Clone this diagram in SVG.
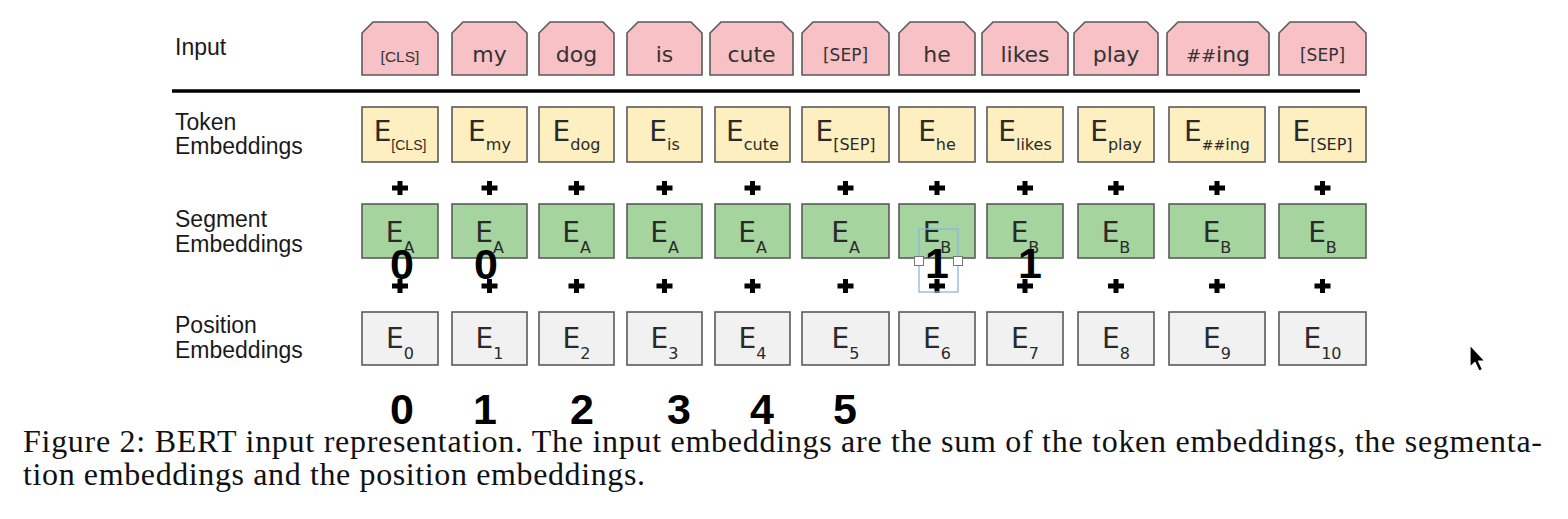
<svg xmlns="http://www.w3.org/2000/svg" xmlns:xlink="http://www.w3.org/1999/xlink" width="1568" height="519" viewBox="0 0 1568 519">
<style>
.lbl{font-family:"Liberation Sans",Arial,sans-serif;font-size:23px;fill:#1a1a1a}
.box{stroke:#5a5a5a;stroke-width:1.6}
.inp{fill:#f7c1c6}
.tok{fill:#fdefc0}
.seg{fill:#a5d49e}
.pos{fill:#f1f1f1}
.w{font-family:"DejaVu Sans",Verdana,sans-serif;font-size:22px;fill:#333;text-anchor:middle}
.br{font-family:"Liberation Sans",Arial,sans-serif;font-size:15.5px;fill:#333;text-anchor:middle}
.brs{font-family:"DejaVu Sans",Verdana,sans-serif;font-size:17px;fill:#333;text-anchor:middle}
.e{font-family:"DejaVu Sans",Verdana,sans-serif;font-size:28px;fill:#2a2a2a;text-anchor:middle}
.s{font-size:16px}
.ss{font-size:14px}
.sa{font-family:"Liberation Sans",Arial,sans-serif;font-size:14px}
.num{font-family:"Liberation Sans",Arial,sans-serif;font-weight:bold;font-size:43px;fill:#000;text-anchor:middle}
.cap{font-family:"Liberation Serif","Times New Roman",serif;font-size:32px;fill:#111}
.plus{stroke:#000;stroke-width:5;fill:none}
</style>
<defs>
<path id="plus" class="plus" d="M-8 0H8M0-7V7"/>
</defs>
<rect width="1568" height="519" fill="#fff"/>

<g id="row-labels">
<text class="lbl" x="175" y="55">Input</text>
<text class="lbl" x="175" y="130">Token</text>
<text class="lbl" x="175" y="154">Embeddings</text>
<text class="lbl" x="175" y="227">Segment</text>
<text class="lbl" x="175" y="252">Embeddings</text>
<text class="lbl" x="175" y="333">Position</text>
<text class="lbl" x="175" y="358">Embeddings</text>
</g>

<g id="separator">
<line x1="172" y1="91" x2="1360" y2="91" stroke="#000" stroke-width="3.5"/>
</g>

<g id="input-row">
<g id="in-0"><path class="box inp" d="M362 75V33L373 22H427L438 33V75Z"/><text class="br" x="400" y="62">[CLS]</text></g>
<g id="in-1"><path class="box inp" d="M452 75V33L463 22H516L527 33V75Z"/><text class="w" x="489.5" y="62">my</text></g>
<g id="in-2"><path class="box inp" d="M539 75V33L550 22H603L614 33V75Z"/><text class="w" x="576.5" y="62">dog</text></g>
<g id="in-3"><path class="box inp" d="M627 75V33L638 22H691L702 33V75Z"/><text class="w" x="664.5" y="62">is</text></g>
<g id="in-4"><path class="box inp" d="M710 75V33L721 22H782L793 33V75Z"/><text class="w" x="751.5" y="62">cute</text></g>
<g id="in-5"><path class="box inp" d="M802 75V33L813 22H878L889 33V75Z"/><text class="brs" x="845.5" y="61">[SEP]</text></g>
<g id="in-6"><path class="box inp" d="M899 75V33L910 22H964L975 33V75Z"/><text class="w" x="937" y="62">he</text></g>
<g id="in-7"><path class="box inp" d="M982 75V33L993 22H1057L1068 33V75Z"/><text class="w" x="1025" y="62">likes</text></g>
<g id="in-8"><path class="box inp" d="M1074 75V33L1085 22H1147L1158 33V75Z"/><text class="w" x="1116" y="62">play</text></g>
<g id="in-9"><path class="box inp" d="M1167 75V33L1178 22H1258L1269 33V75Z"/><text class="w" x="1218" y="62"><tspan font-size="18">##</tspan>ing</text></g>
<g id="in-10"><path class="box inp" d="M1279 75V33L1290 22H1355L1366 33V75Z"/><text class="brs" x="1322.5" y="61">[SEP]</text></g>
</g>

<g id="token-row">
<g id="tok-0"><rect class="box tok" x="362" y="107" width="76" height="55"/><text class="e" x="400" y="141">E<tspan class="sa" dy="9">[CLS]</tspan></text></g>
<g id="tok-1"><rect class="box tok" x="452" y="107" width="75" height="55"/><text class="e" x="489.5" y="141">E<tspan class="s" dy="9">my</tspan></text></g>
<g id="tok-2"><rect class="box tok" x="539" y="107" width="75" height="55"/><text class="e" x="576.5" y="141">E<tspan class="s" dy="9">dog</tspan></text></g>
<g id="tok-3"><rect class="box tok" x="627" y="107" width="75" height="55"/><text class="e" x="664.5" y="141">E<tspan class="s" dy="9">is</tspan></text></g>
<g id="tok-4"><rect class="box tok" x="715" y="107" width="75" height="55"/><text class="e" x="752.5" y="141">E<tspan class="s" dy="9">cute</tspan></text></g>
<g id="tok-5"><rect class="box tok" x="802" y="107" width="87" height="55"/><text class="e" x="845.5" y="141">E<tspan class="s" dy="9">[SEP]</tspan></text></g>
<g id="tok-6"><rect class="box tok" x="899" y="107" width="76" height="55"/><text class="e" x="937" y="141">E<tspan class="s" dy="9">he</tspan></text></g>
<g id="tok-7"><rect class="box tok" x="987" y="107" width="76" height="55"/><text class="e" x="1025" y="141">E<tspan class="s" dy="9">likes</tspan></text></g>
<g id="tok-8"><rect class="box tok" x="1078" y="107" width="76" height="55"/><text class="e" x="1116" y="141">E<tspan class="s" dy="9">play</tspan></text></g>
<g id="tok-9"><rect class="box tok" x="1169" y="107" width="96" height="55"/><text class="e" x="1217" y="141">E<tspan class="ss" dy="9">##</tspan><tspan class="s">ing</tspan></text></g>
<g id="tok-10"><rect class="box tok" x="1279" y="107" width="87" height="55"/><text class="e" x="1322.5" y="141">E<tspan class="s" dy="9">[SEP]</tspan></text></g>
</g>

<g id="segment-row">
<g id="seg-0"><rect class="box seg" x="362" y="204" width="76" height="54"/><text class="e" x="400" y="242">E<tspan class="s" font-size="17" dy="11">A</tspan></text></g>
<g id="seg-1"><rect class="box seg" x="452" y="204" width="75" height="54"/><text class="e" x="489.5" y="242">E<tspan class="s" font-size="17" dy="11">A</tspan></text></g>
<g id="seg-2"><rect class="box seg" x="539" y="204" width="75" height="54"/><text class="e" x="576.5" y="242">E<tspan class="s" font-size="17" dy="11">A</tspan></text></g>
<g id="seg-3"><rect class="box seg" x="627" y="204" width="75" height="54"/><text class="e" x="664.5" y="242">E<tspan class="s" font-size="17" dy="11">A</tspan></text></g>
<g id="seg-4"><rect class="box seg" x="715" y="204" width="75" height="54"/><text class="e" x="752.5" y="242">E<tspan class="s" font-size="17" dy="11">A</tspan></text></g>
<g id="seg-5"><rect class="box seg" x="802" y="204" width="87" height="54"/><text class="e" x="845.5" y="242">E<tspan class="s" font-size="17" dy="11">A</tspan></text></g>
<g id="seg-6"><rect class="box seg" x="899" y="204" width="76" height="54"/><text class="e" x="937" y="242">E<tspan class="s" font-size="17" dy="11">B</tspan></text></g>
<g id="seg-7"><rect class="box seg" x="987" y="204" width="76" height="54"/><text class="e" x="1025" y="242">E<tspan class="s" font-size="17" dy="11">B</tspan></text></g>
<g id="seg-8"><rect class="box seg" x="1078" y="204" width="76" height="54"/><text class="e" x="1116" y="242">E<tspan class="s" font-size="17" dy="11">B</tspan></text></g>
<g id="seg-9"><rect class="box seg" x="1169" y="204" width="96" height="54"/><text class="e" x="1217" y="242">E<tspan class="s" font-size="17" dy="11">B</tspan></text></g>
<g id="seg-10"><rect class="box seg" x="1279" y="204" width="87" height="54"/><text class="e" x="1322.5" y="242">E<tspan class="s" font-size="17" dy="11">B</tspan></text></g>
</g>

<g id="position-row">
<g id="pos-0"><rect class="box pos" x="362" y="312" width="76" height="53"/><text class="e" x="400" y="348">E<tspan class="s" font-size="17" dy="11">0</tspan></text></g>
<g id="pos-1"><rect class="box pos" x="452" y="312" width="75" height="53"/><text class="e" x="489.5" y="348">E<tspan class="s" font-size="17" dy="11">1</tspan></text></g>
<g id="pos-2"><rect class="box pos" x="539" y="312" width="75" height="53"/><text class="e" x="576.5" y="348">E<tspan class="s" font-size="17" dy="11">2</tspan></text></g>
<g id="pos-3"><rect class="box pos" x="627" y="312" width="75" height="53"/><text class="e" x="664.5" y="348">E<tspan class="s" font-size="17" dy="11">3</tspan></text></g>
<g id="pos-4"><rect class="box pos" x="715" y="312" width="75" height="53"/><text class="e" x="752.5" y="348">E<tspan class="s" font-size="17" dy="11">4</tspan></text></g>
<g id="pos-5"><rect class="box pos" x="802" y="312" width="87" height="53"/><text class="e" x="845.5" y="348">E<tspan class="s" font-size="17" dy="11">5</tspan></text></g>
<g id="pos-6"><rect class="box pos" x="899" y="312" width="76" height="53"/><text class="e" x="937" y="348">E<tspan class="s" font-size="17" dy="11">6</tspan></text></g>
<g id="pos-7"><rect class="box pos" x="987" y="312" width="76" height="53"/><text class="e" x="1025" y="348">E<tspan class="s" font-size="17" dy="11">7</tspan></text></g>
<g id="pos-8"><rect class="box pos" x="1078" y="312" width="76" height="53"/><text class="e" x="1116" y="348">E<tspan class="s" font-size="17" dy="11">8</tspan></text></g>
<g id="pos-9"><rect class="box pos" x="1169" y="312" width="96" height="53"/><text class="e" x="1217" y="348">E<tspan class="s" font-size="17" dy="11">9</tspan></text></g>
<g id="pos-10"><rect class="box pos" x="1279" y="312" width="87" height="53"/><text class="e" x="1322.5" y="348">E<tspan class="s" font-size="17" dy="11">10</tspan></text></g>
</g>

<g id="connectors">
<use xlink:href="#plus" x="400" y="188"/><use xlink:href="#plus" x="489.5" y="188"/><use xlink:href="#plus" x="576.5" y="188"/><use xlink:href="#plus" x="664.5" y="188"/><use xlink:href="#plus" x="752.5" y="188"/><use xlink:href="#plus" x="845.5" y="188"/><use xlink:href="#plus" x="937" y="188"/><use xlink:href="#plus" x="1025" y="188"/><use xlink:href="#plus" x="1116" y="188"/><use xlink:href="#plus" x="1217" y="188"/><use xlink:href="#plus" x="1322.5" y="188"/>
<use xlink:href="#plus" x="400" y="286"/><use xlink:href="#plus" x="489.5" y="286"/><use xlink:href="#plus" x="576.5" y="286"/><use xlink:href="#plus" x="664.5" y="286"/><use xlink:href="#plus" x="752.5" y="286"/><use xlink:href="#plus" x="845.5" y="286"/><use xlink:href="#plus" x="937" y="286"/><use xlink:href="#plus" x="1025" y="286"/><use xlink:href="#plus" x="1116" y="286"/><use xlink:href="#plus" x="1217" y="286"/><use xlink:href="#plus" x="1322.5" y="286"/>
</g>

<g id="segment-ids">
<text class="num" x="402" y="279">0</text>
<text class="num" x="486" y="279">0</text>
<text class="num" x="937" y="278">1</text>
<text class="num" x="1030" y="278">1</text>
</g>

<g id="selection">
<rect x="919" y="229" width="39" height="63" fill="none" stroke="#8db3ea" stroke-width="1.3"/>
<rect x="914.5" y="256.5" width="9" height="9" fill="#fff" stroke="#777" stroke-width="1"/>
<rect x="953.5" y="256.5" width="9" height="9" fill="#fff" stroke="#777" stroke-width="1"/>
</g>

<g id="position-ids">
<text class="num" x="402" y="424">0</text>
<text class="num" x="485" y="424">1</text>
<text class="num" x="582" y="424">2</text>
<text class="num" x="679" y="424">3</text>
<text class="num" x="762" y="424">4</text>
<text class="num" x="845" y="424">5</text>
</g>

<g id="caption">
<text class="cap" x="23" y="452" textLength="1519" lengthAdjust="spacing">Figure 2: BERT input representation. The input embeddings are the sum of the token embeddings, the segmenta-</text>
<text class="cap" x="23" y="485" textLength="622" lengthAdjust="spacing">tion embeddings and the position embeddings.</text>
</g>

<g id="cursor">
<path d="M1470 345V367L1475 362.5L1479 371L1482.5 369.5L1478.5 361H1485Z" fill="#000" stroke="#fff" stroke-width="1.2" stroke-linejoin="round"/>
</g>
</svg>
